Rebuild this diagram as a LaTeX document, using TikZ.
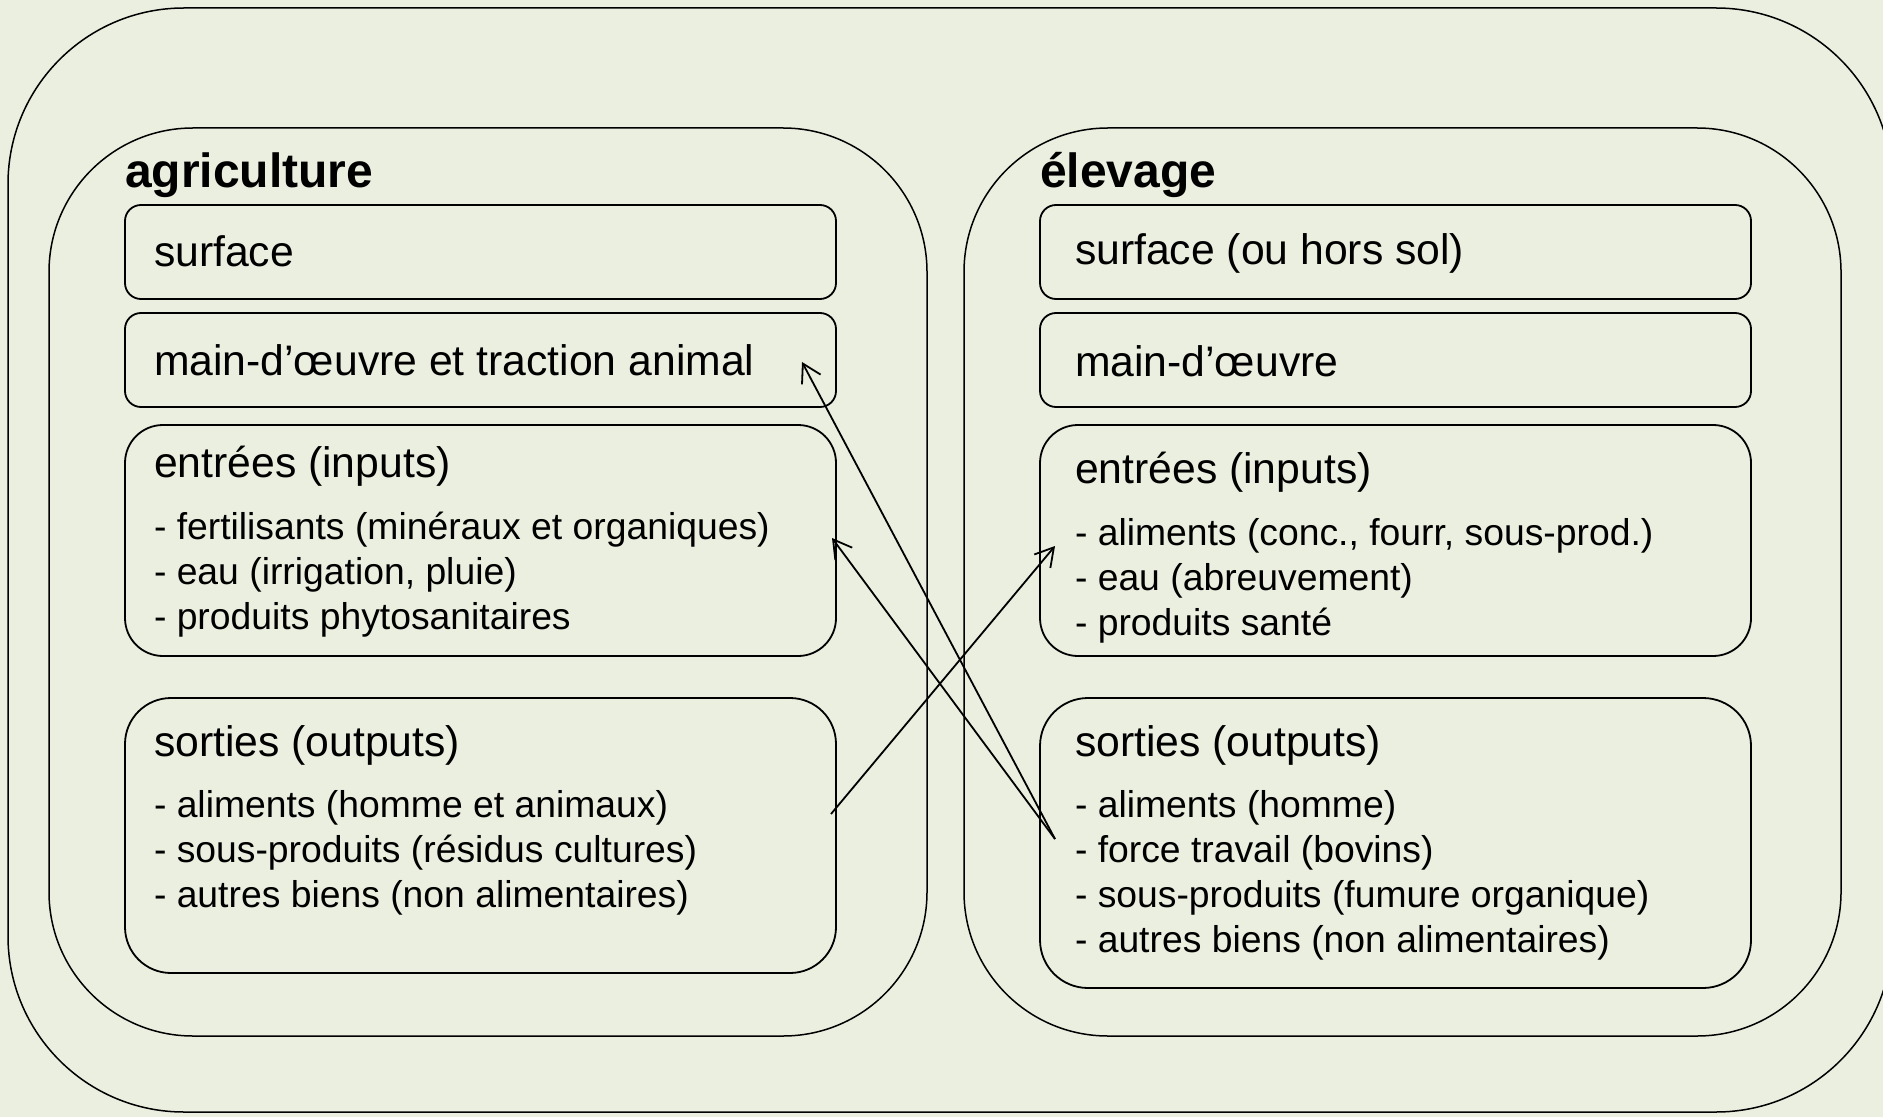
\documentclass[tikz,border=0pt]{standalone}
\usepackage{fontspec}
\setmainfont{Liberation Sans}
\usetikzlibrary{arrows.meta,fit}
\definecolor{bgcol}{RGB}{235,239,223}
\newcommand\ftItem{\fontsize{18.65}{22.5}\selectfont}
\newcommand\ftHead{\fontsize{21.35}{25}\selectfont}
\newcommand\ftTitle{\fontsize{24}{28}\selectfont\bfseries}
\begin{document}
\begin{tikzpicture}[x=0.5pt,y=-0.5pt,
  frame/.style={draw=black, line width=0.75pt, inner sep=0pt, outer sep=0pt, fill=none},
  box/.style={draw=black, line width=0.9pt, inner sep=0pt, outer sep=0pt, fill=none},
  txt/.style={anchor=base west, inner sep=0pt, outer sep=0pt},
  arr/.style={line width=0.9pt, -{Straight Barb[length=9pt,width=10.5pt,line width=0.9pt]}}]
\fill[bgcol] (0,0) rectangle (1883,1117);
\useasboundingbox (0,0) rectangle (1883,1117);

% frames
\node[frame, rounded corners=88pt, fit={(8,8)(1892,1112)}] (outer) {};
\node[frame, rounded corners=72pt, fit={(49,128)(927,1036)}] (agri) {};
\node[frame, rounded corners=72pt, fit={(964,128)(1841,1036)}] (elev) {};

% agriculture boxes
\node[box, rounded corners=8pt, fit={(125,205)(836,299)}] (asurf) {};
\node[box, rounded corners=8pt, fit={(125,313)(836,407)}] (amain) {};
\node[box, rounded corners=19pt, fit={(125,425)(836,656)}] (ain) {};
\node[box, rounded corners=23pt, fit={(125,698)(836,973)}] (aout) {};

% elevage boxes
\node[box, rounded corners=8pt, fit={(1040,205)(1751,299)}] (esurf) {};
\node[box, rounded corners=8pt, fit={(1040,313)(1751,407)}] (emain) {};
\node[box, rounded corners=19pt, fit={(1040,425)(1751,656)}] (ein) {};
\node[box, rounded corners=24pt, fit={(1040,698)(1751,988)}] (eout) {};

% titles
\node[txt] (tagri) at (125,188) {\ftTitle agriculture};
\node[txt] (telev) at (1040,188) {\ftTitle élevage};

% agriculture texts
\node[txt] (asurft) at (154,267) {\ftHead surface};
\node[txt] (amaint) at (154,376) {\ftHead main-d’œuvre et traction animal};
\node[txt] (aint) at (154,477) {\ftHead entrées (inputs)};
\node[txt] (ain1) at (154,539) {\ftItem - fertilisants (minéraux et organiques)};
\node[txt] (ain2) at (154,584) {\ftItem - eau (irrigation, pluie)};
\node[txt] (ain3) at (154,629) {\ftItem - produits phytosanitaires};
\node[txt] (aoutt) at (154,756) {\ftHead sorties (outputs)};
\node[txt] (aout1) at (154,817) {\ftItem - aliments (homme et animaux)};
\node[txt] (aout2) at (154,862) {\ftItem - sous-produits (résidus cultures)};
\node[txt] (aout3) at (154,907) {\ftItem - autres biens (non alimentaires)};

% elevage texts
\node[txt] (esurft) at (1075,265) {\ftHead surface (ou hors sol)};
\node[txt] (emaint) at (1075,377) {\ftHead main-d’œuvre};
\node[txt] (eint) at (1075,483) {\ftHead entrées (inputs)};
\node[txt] (ein1) at (1075,545) {\ftItem - aliments (conc., fourr, sous-prod.)};
\node[txt] (ein2) at (1075,590) {\ftItem - eau (abreuvement)};
\node[txt] (ein3) at (1075,635) {\ftItem - produits santé};
\node[txt] (eoutt) at (1075,756) {\ftHead sorties (outputs)};
\node[txt] (eout1) at (1075,817) {\ftItem - aliments (homme)};
\node[txt] (eout2) at (1075,862) {\ftItem - force travail (bovins)};
\node[txt] (eout3) at (1075,907) {\ftItem - sous-produits (fumure organique)};
\node[txt] (eout4) at (1075,952) {\ftItem - autres biens (non alimentaires)};

% connector end points
\coordinate (pForce) at (1055,839);
\coordinate (pMain) at (802,362);
\coordinate (pAin) at (832,538);
\coordinate (pAout) at (831,814);
\coordinate (pEin) at (1055,546);

\draw[arr] (pForce) -- (pMain);
\draw[arr] (pForce) -- (pAin);
\draw[arr] (pAout) -- (pEin);
\end{tikzpicture}
\end{document}
